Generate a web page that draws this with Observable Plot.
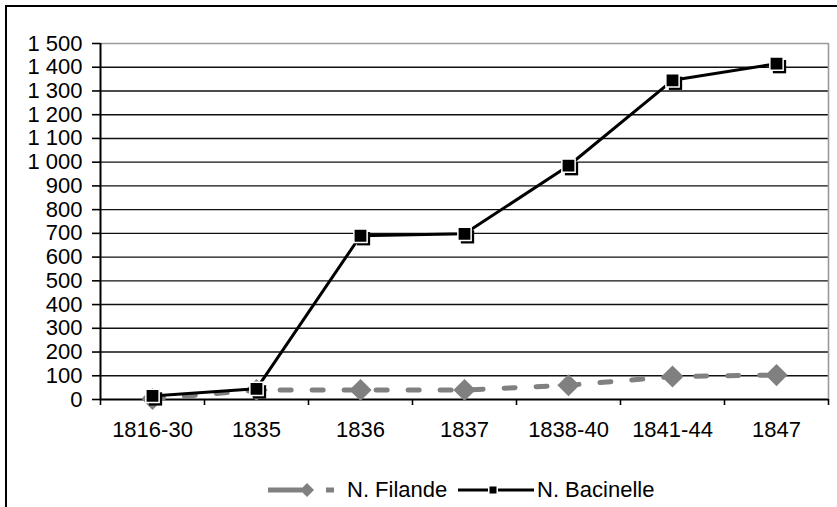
<!DOCTYPE html>
<html>
<head>
<meta charset="utf-8">
<script src="https://cdn.jsdelivr.net/npm/d3@7"></script>
<script src="https://cdn.jsdelivr.net/npm/@observablehq/plot@0.6"></script>
<style>
  html, body { margin: 0; padding: 0; background: #fff; overflow: hidden; }
  body { width: 837px; height: 507px; position: relative; font-family: "Liberation Sans", Arial, sans-serif; }
  #frame { position: absolute; left: 5px; top: 5px; width: 900px; height: 600px; border: 2px solid #000; pointer-events: none; z-index: 5; }
  #chart { position: absolute; left: 0; top: 0; }
  #legend { position: absolute; left: 0; top: 0; width: 837px; height: 507px; pointer-events: none; }
  .lg { position: absolute; font-size: 22px; line-height: 22px; color: #000; white-space: nowrap; }
</style>
</head>
<body>
<div id="chart"></div>
<div id="legend">
  <svg width="837" height="507" style="position:absolute;left:0;top:0">
    <line x1="268" x2="302" y1="490" y2="490" stroke="#808080" stroke-width="5"/>
    <path d="M307,483 L314,490 L307,497 L300,490 Z" fill="#808080"/>
    <rect x="326" y="487.5" width="8" height="5" fill="#808080"/>
    <line x1="458" x2="488" y1="490" y2="490" stroke="#000" stroke-width="3"/>
    <rect x="489.5" y="486.5" width="7" height="7" fill="#000"/>
    <line x1="498" x2="534" y1="490" y2="490" stroke="#000" stroke-width="3"/>
  </svg>
  <span class="lg" style="left:347px;top:479px">N. Filande</span>
  <span class="lg" style="left:537px;top:479px">N. Bacinelle</span>
</div>
<div id="frame"></div>
<script>
const categories = ["1816-30", "1835", "1836", "1837", "1838-40", "1841-44", "1847"];
const filande = [3, 40, 40, 40, 60, 97, 103];
const bacinelle = [15, 45, 690, 698, 985, 1345, 1415];
const yTicks = d3.range(0, 1501, 100);

const data = categories.map((c, i) => ({cat: c, pos: i + 0.5, filande: filande[i], bacinelle: bacinelle[i]}));
const fmt = d => d3.format(",")(d).replace(/,/g, " ");

const chart = Plot.plot({
  width: 837,
  height: 460,
  marginTop: 43,
  marginLeft: 100,
  marginRight: 9,
  marginBottom: 61,
  style: {fontFamily: "'Liberation Sans', Arial, sans-serif", fontSize: "22px", color: "#000", background: "transparent", overflow: "visible"},
  x: {type: "linear", domain: [0, categories.length], axis: null, label: null},
  y: {domain: [0, 1500], axis: null, label: null},
  marks: [
    Plot.ruleY(yTicks.filter(d => d > 0 && d < 1500), {stroke: "#111", strokeWidth: 1.4}),
    Plot.ruleY([1500], {stroke: "#9a9a9a", strokeWidth: 1.6}),
    Plot.ruleX([categories.length], {y1: 0, y2: 1500, stroke: "#9a9a9a", strokeWidth: 1.6}),
    Plot.axisY({ticks: yTicks, tickSize: 8, tickPadding: 10, tickFormat: fmt, fontSize: 22, stroke: "#000", strokeWidth: 1.6, label: null}),
    Plot.axisX({ticks: d3.range(0, categories.length + 1), tickSize: 6, tickFormat: () => "", stroke: "#000", strokeWidth: 1.6, label: null}),
    Plot.axisX({ticks: data.map(d => d.pos), tickSize: 0, tickPadding: 21.5, tickFormat: d => categories[Math.round(d - 0.5)], fontSize: 22, label: null}),
    Plot.ruleX([0], {y1: 0, y2: 1500, stroke: "#000", strokeWidth: 2}),
    Plot.ruleY([0], {stroke: "#000", strokeWidth: 2}),
    Plot.line(data, {x: "pos", y: "filande", stroke: "#808080", strokeWidth: 5, strokeDasharray: "11,21"}),
    Plot.dot(data, {x: "pos", y: "filande", symbol: "diamond2", r: 10, fill: "#808080", stroke: "none"}),
    Plot.line(data, {x: "pos", y: "bacinelle", stroke: "#000", strokeWidth: 3}),
    Plot.dot(data, {x: "pos", y: "bacinelle", symbol: "square", r: 7.5, fill: "#000", dx: 3, dy: 3}),
    Plot.dot(data, {x: "pos", y: "bacinelle", symbol: "square", r: 7.5, fill: "#000", stroke: "#fff", strokeWidth: 1.5})
  ]
});
document.getElementById("chart").appendChild(chart);
</script>
</body>
</html>
